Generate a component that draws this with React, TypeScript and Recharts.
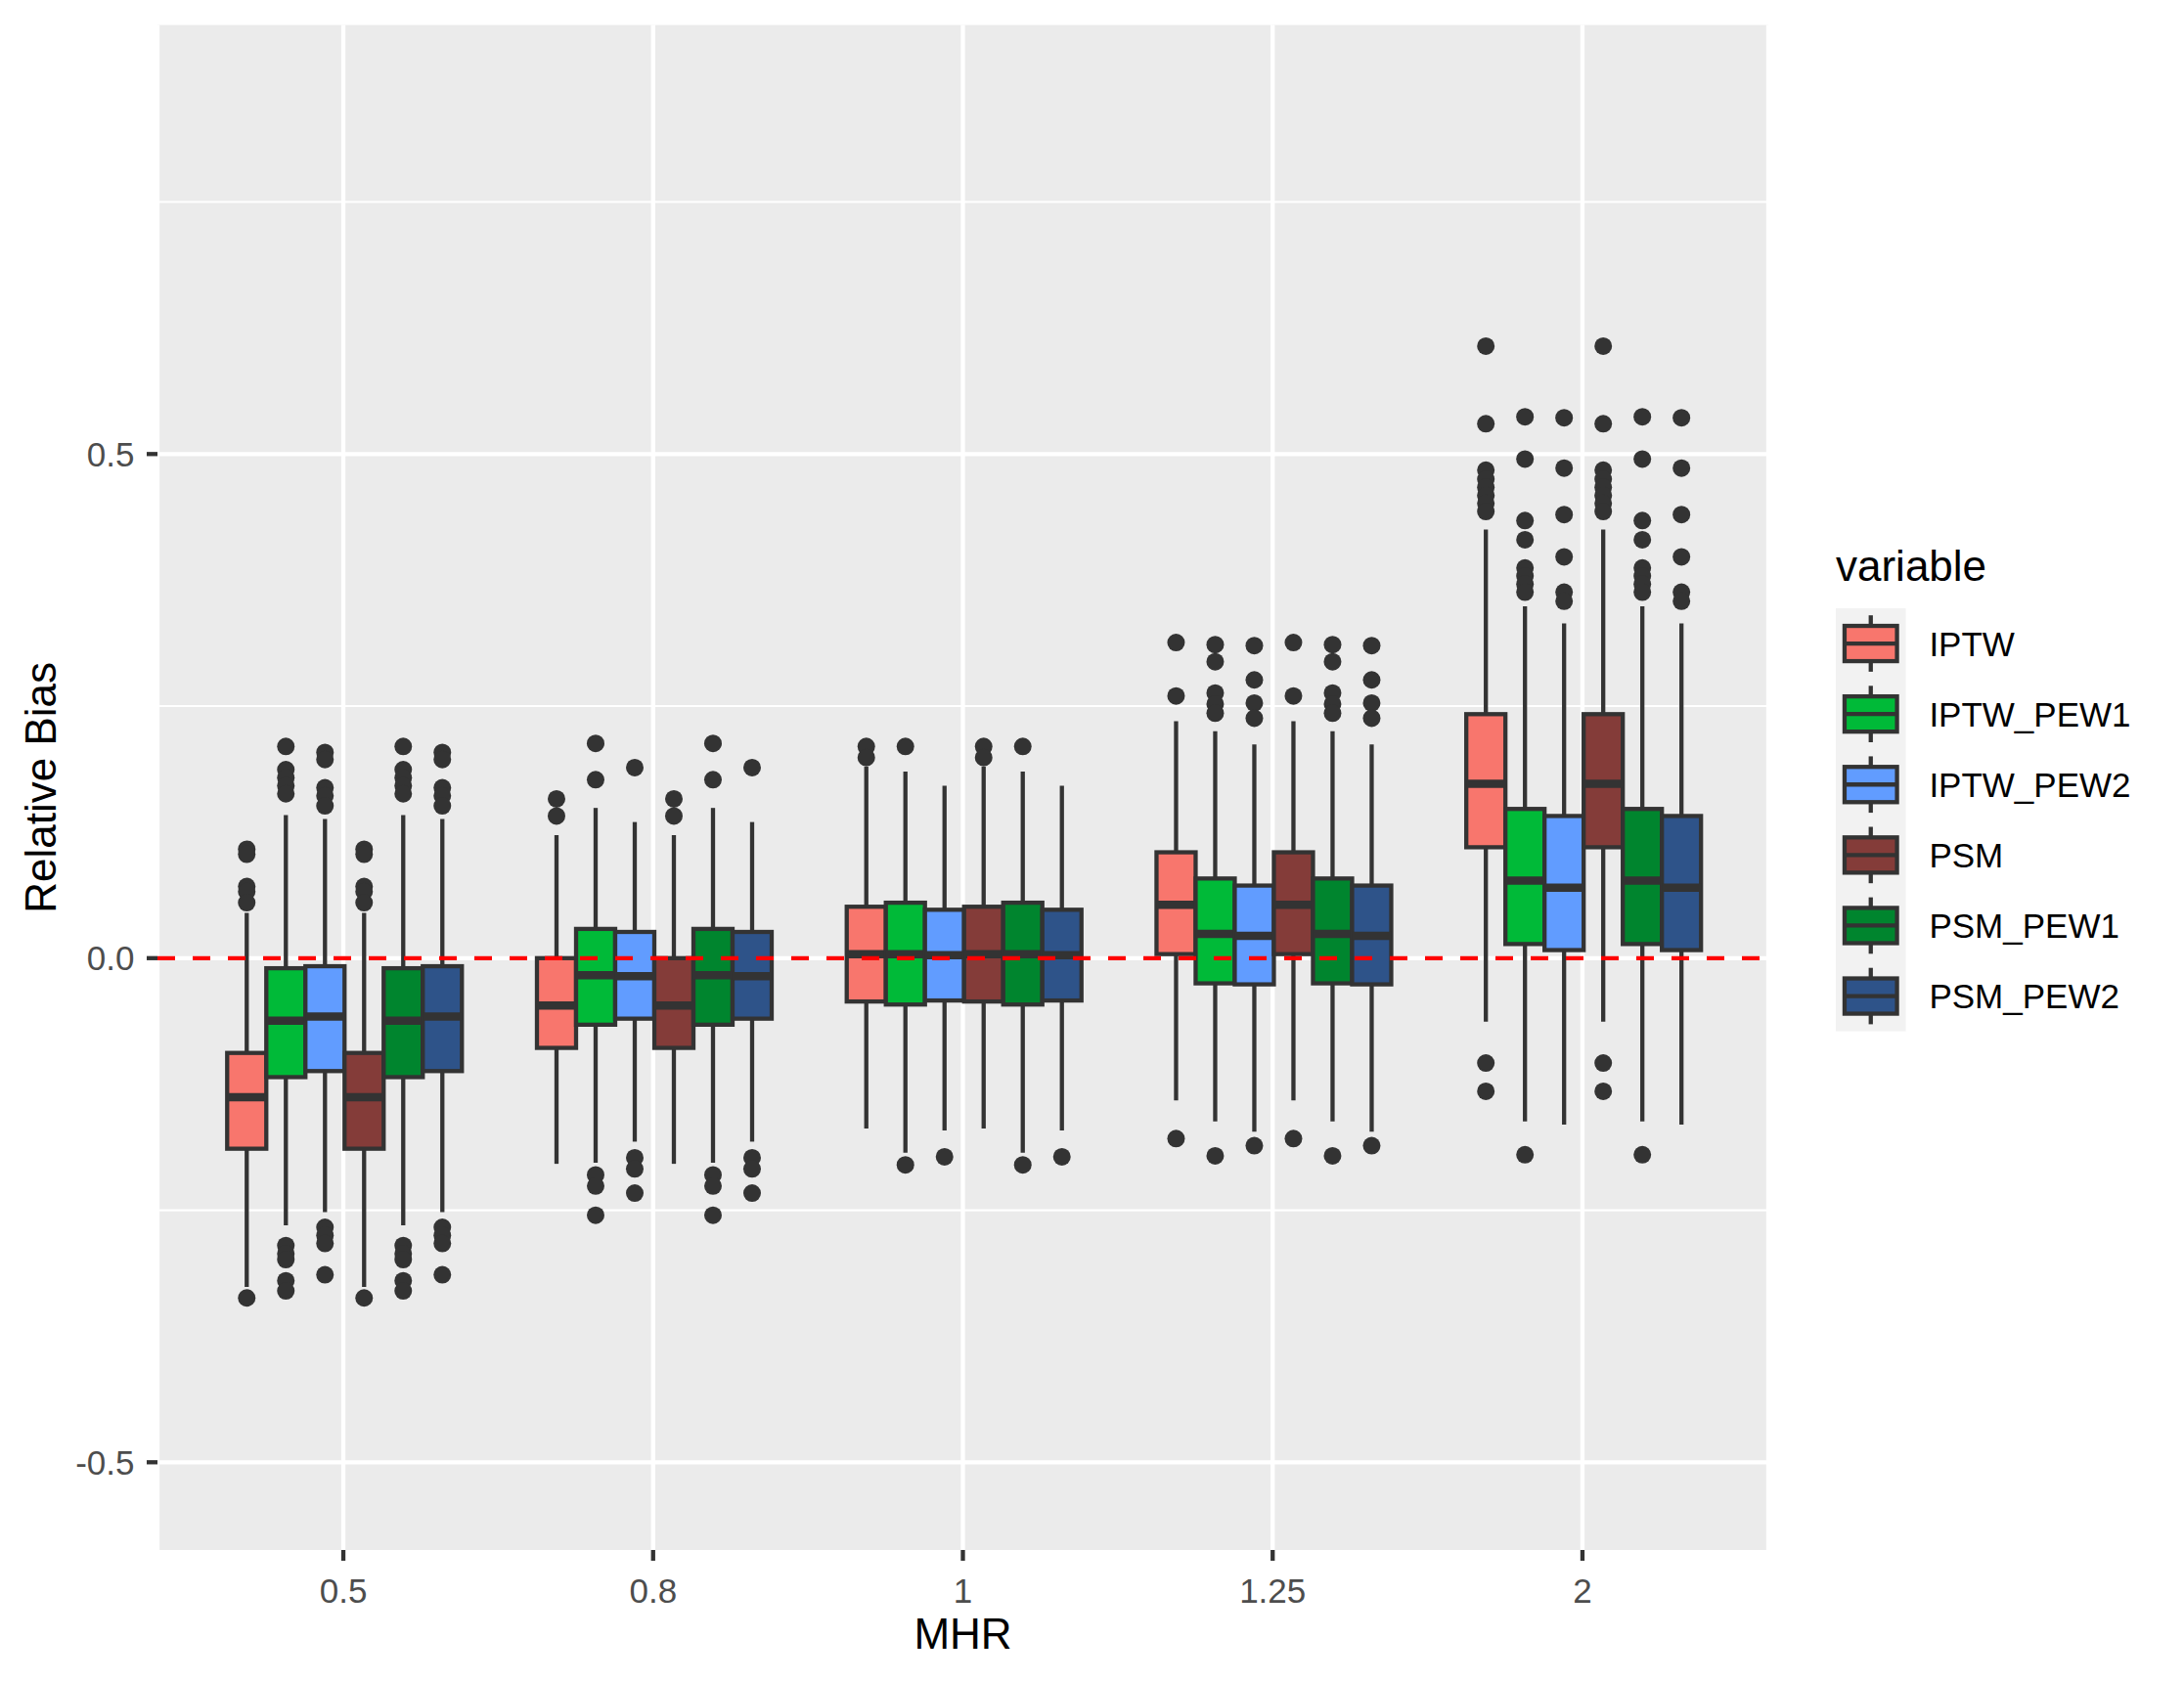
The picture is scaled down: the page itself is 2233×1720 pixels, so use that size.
import React from 'react';
import { ComposedChart, Bar, XAxis, YAxis, CartesianGrid, ReferenceLine, Legend } from 'recharts';

const FONT = '"Liberation Sans", Arial, Helvetica, sans-serif';

const categories = ['0.5', '0.8', '1', '1.25', '2'];
const seriesNames = ['IPTW', 'IPTW_PEW1', 'IPTW_PEW2', 'PSM', 'PSM_PEW1', 'PSM_PEW2'];
const seriesFills = ['#F8766D', '#00BA38', '#619CFF', '#843C39', '#00852E', '#2E5389'];
const yTicks = [-0.5, 0, 0.5];
const yMinorTicks = [-0.25, 0.25, 0.75];
const yDomain = [-0.587, 0.9255];

const IPTW = {
  low: [-0.326, -0.204, -0.169, -0.141, -0.063],
  q1: [-0.189, -0.089, -0.043, 0.004, 0.11],
  median: [-0.138, -0.047, 0.004, 0.053, 0.173],
  q3: [-0.094, 0.0, 0.051, 0.105, 0.242],
  high: [0.045, 0.122, 0.19, 0.235, 0.425],
  outliers: [
    [0.108, 0.103, 0.071, 0.066, 0.055, -0.337],
    [0.158, 0.141],
    [0.21, 0.199],
    [0.313, 0.26, -0.179],
    [0.607, 0.53, 0.484, 0.475, 0.467, 0.459, 0.451, 0.443, -0.104, -0.132],
  ],
};

const IPTW_PEW1 = {
  low: [-0.265, -0.203, -0.193, -0.162, -0.162],
  q1: [-0.118, -0.066, -0.046, -0.025, 0.014],
  median: [-0.062, -0.017, 0.004, 0.024, 0.077],
  q3: [-0.01, 0.029, 0.055, 0.079, 0.148],
  high: [0.142, 0.149, 0.185, 0.225, 0.349],
  outliers: [
    [0.21, 0.187, 0.179, 0.171, 0.163, -0.285, -0.293, -0.299, -0.32, -0.33],
    [0.213, 0.177, -0.215, -0.226, -0.255],
    [0.21, -0.205],
    [0.311, 0.294, 0.263, 0.252, 0.243, -0.196],
    [0.537, 0.495, 0.434, 0.415, 0.387, 0.379, 0.371, 0.363, -0.195],
  ],
};

const IPTW_PEW2 = {
  low: [-0.252, -0.182, -0.171, -0.172, -0.165],
  q1: [-0.112, -0.06, -0.042, -0.026, 0.008],
  median: [-0.058, -0.018, 0.003, 0.022, 0.07],
  q3: [-0.008, 0.026, 0.048, 0.072, 0.141],
  high: [0.138, 0.135, 0.171, 0.212, 0.332],
  outliers: [
    [0.204, 0.197, 0.169, 0.161, 0.151, -0.267, -0.275, -0.283, -0.314],
    [0.189, -0.198, -0.209, -0.233],
    [-0.197],
    [0.31, 0.276, 0.253, 0.238, -0.186],
    [0.536, 0.486, 0.44, 0.398, 0.363, 0.354],
  ],
};

const PSM = {
  low: [-0.326, -0.204, -0.169, -0.141, -0.063],
  q1: [-0.189, -0.089, -0.043, 0.004, 0.11],
  median: [-0.138, -0.047, 0.004, 0.053, 0.173],
  q3: [-0.094, 0.0, 0.051, 0.105, 0.242],
  high: [0.045, 0.122, 0.19, 0.235, 0.425],
  outliers: [
    [0.108, 0.103, 0.071, 0.066, 0.055, -0.337],
    [0.158, 0.141],
    [0.21, 0.199],
    [0.313, 0.26, -0.179],
    [0.607, 0.53, 0.484, 0.475, 0.467, 0.459, 0.451, 0.443, -0.104, -0.132],
  ],
};

const PSM_PEW1 = {
  low: [-0.265, -0.203, -0.193, -0.162, -0.162],
  q1: [-0.118, -0.066, -0.046, -0.025, 0.014],
  median: [-0.062, -0.017, 0.004, 0.024, 0.077],
  q3: [-0.01, 0.029, 0.055, 0.079, 0.148],
  high: [0.142, 0.149, 0.185, 0.225, 0.349],
  outliers: [
    [0.21, 0.187, 0.179, 0.171, 0.163, -0.285, -0.293, -0.299, -0.32, -0.33],
    [0.213, 0.177, -0.215, -0.226, -0.255],
    [0.21, -0.205],
    [0.311, 0.294, 0.263, 0.252, 0.243, -0.196],
    [0.537, 0.495, 0.434, 0.415, 0.387, 0.379, 0.371, 0.363, -0.195],
  ],
};

const PSM_PEW2 = {
  low: [-0.252, -0.182, -0.171, -0.172, -0.165],
  q1: [-0.112, -0.06, -0.042, -0.026, 0.008],
  median: [-0.058, -0.018, 0.003, 0.022, 0.07],
  q3: [-0.008, 0.026, 0.048, 0.072, 0.141],
  high: [0.138, 0.135, 0.171, 0.212, 0.332],
  outliers: [
    [0.204, 0.197, 0.169, 0.161, 0.151, -0.267, -0.275, -0.283, -0.314],
    [0.189, -0.198, -0.209, -0.233],
    [-0.197],
    [0.31, 0.276, 0.253, 0.238, -0.186],
    [0.536, 0.486, 0.44, 0.398, 0.363, 0.354],
  ],
};

const seriesStats = [IPTW, IPTW_PEW1, IPTW_PEW2, PSM, PSM_PEW1, PSM_PEW2];

const chartData = categories.map((mhr, i) => {
  const row: any = { mhr };
  seriesNames.forEach((name, k) => {
    row[name] = [seriesStats[k].low[i], seriesStats[k].high[i]];
  });
  return row;
});

const LINE = '#333333';
const LW = 4.3;

function makeBoxShape(stats: any, fill: string) {
  return (props: any) => {
    const { x, y, width, height, payload } = props;
    const i = categories.indexOf(payload.mhr);
    if (i < 0 || height == null) return <g />;
    const lo = stats.low[i];
    const hi = stats.high[i];
    const top = Math.min(y, y + height);
    const h = Math.abs(height);
    const k = h / (hi - lo);
    const py = (v: number) => top + (hi - v) * k;
    const cx = x + width / 2;
    return (
      <g>
        {stats.outliers[i].map((v: number, j: number) => (
          <circle key={j} cx={cx} cy={py(v)} r={9} fill={LINE} />
        ))}
        <line x1={cx} x2={cx} y1={py(hi)} y2={py(stats.q3[i])} stroke={LINE} strokeWidth={LW} />
        <line x1={cx} x2={cx} y1={py(stats.q1[i])} y2={py(lo)} stroke={LINE} strokeWidth={LW} />
        <rect
          x={x}
          y={py(stats.q3[i])}
          width={width}
          height={py(stats.q1[i]) - py(stats.q3[i])}
          fill={fill}
          stroke={LINE}
          strokeWidth={LW}
        />
        <line x1={x} x2={x + width} y1={py(stats.median[i])} y2={py(stats.median[i])} stroke={LINE} strokeWidth={8.5} />
      </g>
    );
  };
}

const KEY_W = 71.5;
const KEY_H = 72.1;
const KEYS_TOP = 82;

const renderLegend = () => (
  <svg width={356} height={540} style={{ overflow: 'visible', display: 'block' }}>
    <text x={0} y={53.8} fontSize={44} fill="#000000" fontFamily={FONT}>
      variable
    </text>
    <rect x={0} y={KEYS_TOP} width={KEY_W} height={KEY_H * seriesNames.length} fill="#F2F2F2" />
    {seriesNames.map((name, k) => {
      const t = KEYS_TOP + k * KEY_H;
      const cx = KEY_W / 2;
      const bx0 = KEY_W * 0.125;
      const bx1 = KEY_W * 0.875;
      return (
        <g key={name}>
          <line x1={cx} x2={cx} y1={t + KEY_H * 0.1} y2={t + KEY_H * 0.25} stroke={LINE} strokeWidth={LW} />
          <line x1={cx} x2={cx} y1={t + KEY_H * 0.75} y2={t + KEY_H * 0.9} stroke={LINE} strokeWidth={LW} />
          <rect x={bx0} y={t + KEY_H * 0.25} width={bx1 - bx0} height={KEY_H * 0.5} fill={seriesFills[k]} stroke={LINE} strokeWidth={LW} />
          <line x1={bx0} x2={bx1} y1={t + KEY_H / 2} y2={t + KEY_H / 2} stroke={LINE} strokeWidth={LW} />
          <text x={95.4} y={t + KEY_H / 2 + 12.5} fontSize={35} fill="#000000" fontFamily={FONT}>
            {name}
          </text>
        </g>
      );
    })}
  </svg>
);

const yLabel = (p: any) => {
  const vb = p.viewBox || { y: 25.6, height: 1559.4 };
  const cy = vb.y + vb.height / 2;
  return (
    <text x={57} y={cy} transform={`rotate(-90 57 ${cy})`} textAnchor="middle" fontSize={44} fill="#000000" fontFamily={FONT}>
      Relative Bias
    </text>
  );
};

const xLabel = (p: any) => {
  const vb = p.viewBox || { x: 161, y: 1585, width: 1647 };
  return (
    <text x={vb.x + vb.width / 2} y={vb.y + 101.3} textAnchor="middle" fontSize={44} fill="#000000" fontFamily={FONT}>
      MHR
    </text>
  );
};

export default function App() {
  const W = 2233;
  const H = 1720;
  const plotLeft = 161;
  const plotRight = 1808;
  const plotTop = 25.6;
  const plotBottom = 1585;
  const pad = (plotRight - plotLeft) / 52;
  return (
    <div style={{ position: 'absolute', left: 0, top: 0, width: W, height: H, background: '#FFFFFF' }}>
      <ComposedChart
        width={W}
        height={H}
        data={chartData}
        margin={{ top: plotTop, right: W - plotRight, bottom: 0, left: 0 }}
        barCategoryGap="12.5%"
        barGap={0}
      >
        <CartesianGrid
          fill="#EBEBEB"
          stroke="#FFFFFF"
          strokeWidth={2.15}
          vertical={false}
          horizontalValues={yMinorTicks}
        />
        <CartesianGrid stroke="#FFFFFF" strokeWidth={LW} horizontalValues={yTicks} />
        <XAxis
          dataKey="mhr"
          type="category"
          height={H - plotBottom}
          padding={{ left: pad, right: pad }}
          axisLine={false}
          tickSize={11}
          tickMargin={17.75}
          tickLine={{ stroke: LINE, strokeWidth: LW }}
          tick={{ fontSize: 35, fill: '#4D4D4D', fontFamily: FONT }}
          interval={0}
          label={{ value: 'MHR', content: xLabel }}
        />
        <YAxis
          type="number"
          width={plotLeft}
          domain={yDomain}
          allowDataOverflow
          ticks={yTicks}
          tickFormatter={(v: number) => v.toFixed(1)}
          axisLine={false}
          tickSize={11}
          tickMargin={12.5}
          tickLine={{ stroke: LINE, strokeWidth: LW }}
          tick={{ fontSize: 35, fill: '#4D4D4D', fontFamily: FONT }}
          label={{ value: 'Relative Bias', content: yLabel }}
        />
        {seriesNames.map((name, k) => (
          <Bar
            key={name}
            dataKey={name}
            fill={seriesFills[k]}
            isAnimationActive={false}
            shape={makeBoxShape(seriesStats[k], seriesFills[k])}
          />
        ))}
        <ReferenceLine
          y={0}
          stroke="#FF0000"
          strokeWidth={LW}
          strokeDasharray="18 18"
          ifOverflow="extendDomain"
          zIndex={700}
        />
        <Legend
          layout="vertical"
          align="center"
          verticalAlign="middle"
          content={renderLegend}
          wrapperStyle={{ position: 'absolute', left: 1877, top: 540, width: 356, height: 540 }}
        />
      </ComposedChart>
    </div>
  );
}
